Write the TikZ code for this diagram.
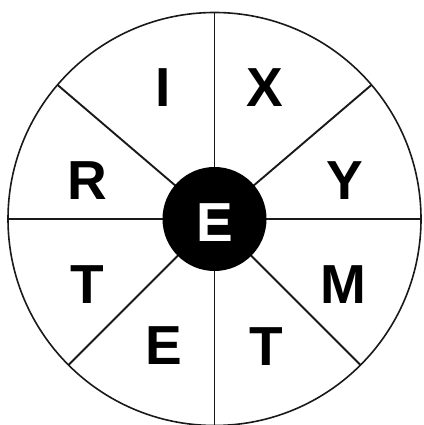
\documentclass[tikz,border=0pt]{standalone}
\usepackage{fontspec}
\setmainfont{Liberation Sans}
\begin{document}
\begin{tikzpicture}[x=1pt,y=1pt,
  letter/.style={font=\fontsize{55}{55}\selectfont\bfseries, text height=39.4pt, text depth=0pt, inner sep=0pt},
  ray/.style={line width=1.9pt, black!90},
  rim/.style={line width=1.6pt, black!90}]
\useasboundingbox (0,0) rectangle (423,425);
\coordinate (O) at (214.5,206);
\draw[rim] (O) circle (206.5);
\foreach \a/\n in {90/n,40.5/ne,0/e,315/se,270/s,225/sw,180/w,139.5/nw}{
  \coordinate (r\n) at ([shift={(\a:206.5)}]O);
  \draw[ray] (O) -- (r\n);
}
\node[circle, fill=black, minimum size=104pt, inner sep=0pt] (hub) at (O) {};
\node[letter, text=white] (ec) at (215,203) {E};
\node[letter] (lI) at (163,338) {I};
\node[letter] (lX) at (265,338) {X};
\node[letter] (lR) at (87,245) {R};
\node[letter] (lY) at (345,245) {Y};
\node[letter] (lT1) at (87,141) {T};
\node[letter] (lM) at (343,141) {M};
\node[letter] (lE) at (164,80) {E};
\node[letter] (lT2) at (266,79) {T};
\end{tikzpicture}
\end{document}
